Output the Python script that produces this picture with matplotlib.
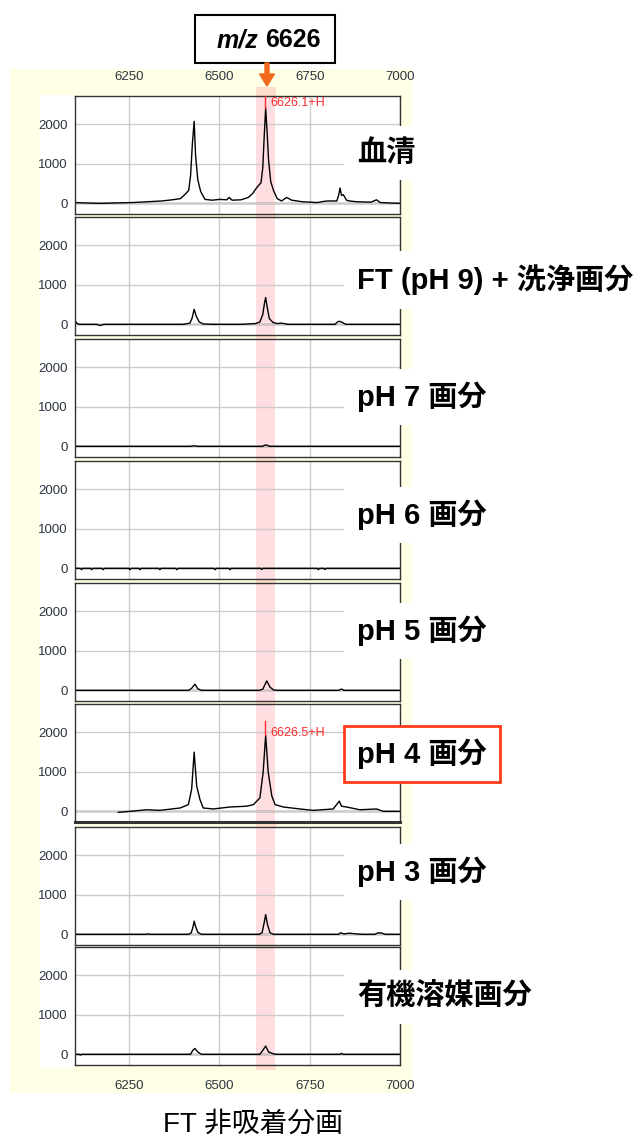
import numpy as np
from matplotlib import pyplot as plt
from matplotlib.patches import Rectangle, FancyArrow

plt.rcParams['font.family'] = ['Liberation Sans', 'Noto Sans CJK JP', 'DejaVu Sans']

W, H = 637, 1137

# spectra (m/z, intensity)
serum_mz = [6100, 6130, 6170, 6210, 6260, 6300, 6340, 6370, 6392, 6405, 6415, 6420, 6425, 6430, 6434, 6440,
            6448, 6460, 6480, 6500, 6520, 6527, 6535, 6560, 6580, 6592, 6605, 6615, 6620, 6624, 6628, 6632,
            6636, 6642, 6650, 6660, 6672, 6686, 6700, 6730, 6770, 6790, 6800, 6825, 6830, 6834, 6838, 6843,
            6852, 6860, 6880, 6920, 6935, 6945, 6970, 7000]
serum_int = [20, 10, 0, 10, 20, 40, 60, 90, 120, 230, 330, 700, 1500, 2080, 1200, 600,
             300, 100, 80, 100, 90, 150, 80, 90, 150, 250, 420, 520, 900, 1700, 2420, 1800,
             1100, 550, 320, 120, 60, 150, 80, 40, 20, 50, 60, 60, 200, 390, 200, 220,
             80, 60, 40, 30, 90, 20, 10, 0]

ft_mz = [6100, 6103, 6106, 6112, 6160, 6170, 6180, 6300, 6400, 6418, 6424, 6430, 6436, 6444, 6455, 6480,
         6560, 6600, 6612, 6620, 6625, 6628, 6632, 6638, 6648, 6660, 6672, 6690, 6760, 6820, 6828, 6834,
         6842, 6850, 6900, 7000]
ft_int = [0, 60, 20, 0, 0, -30, 0, 0, 0, 30, 150, 380, 200, 60, 10, 0,
          0, 20, 60, 250, 550, 680, 450, 150, 50, 20, 30, 0, 0, 0, 70, 75,
          40, 0, 0, 0]

ph7_mz = [6100, 6420, 6430, 6440, 6620, 6625, 6632, 6638, 7000]
ph7_int = [0, 0, 15, 0, 0, 30, 30, 0, 0]

ph6_mz = [6100, 6115, 6118, 6121, 6143, 6146, 6149, 6175, 6178, 6181, 6249, 6252, 6255, 6277, 6280, 6283,
          6332, 6335, 6338, 6379, 6382, 6385, 6485, 6488, 6491, 6526, 6529, 6532, 6614, 6617, 6620, 6771,
          6774, 6777, 6789, 6792, 6795, 7000]
ph6_int = [0, 0, -35, 0, 0, -35, 0, 0, -35, 0, 0, -35, 0, 0, -35, 0,
           0, -35, 0, 0, -35, 0, 0, -35, 0, 0, -35, 0, 0, -30, 0, 0,
           -35, 0, 0, -30, 0, 0]

ph5_mz = [6100, 6415, 6424, 6432, 6440, 6450, 6610, 6620, 6631, 6640, 6650, 6660, 6830, 6838, 6845, 7000]
ph5_int = [0, 0, 60, 157, 40, 0, 0, 30, 240, 80, 10, 0, 0, 33, 0, 0]

ph4_mz = [6220, 6252, 6298, 6335, 6391, 6414, 6423, 6430, 6437, 6446, 6455, 6483, 6529, 6575, 6594, 6612,
          6621, 6628, 6635, 6645, 6654, 6677, 6723, 6760, 6815, 6832, 6838, 6852, 6889, 6935, 6954, 7000]
ph4_int = [-25, 0, 40, 25, 85, 170, 560, 1500, 640, 300, 85, 60, 110, 130, 170, 340,
           990, 1930, 990, 390, 170, 110, 60, 25, 60, 260, 130, 110, 40, 60, 0, 0]

ph3_mz = [6100, 6298, 6302, 6306, 6415, 6422, 6427, 6430, 6434, 6440, 6450, 6610, 6618, 6624, 6628, 6633,
          6640, 6650, 6830, 6835, 6845, 6860, 6880, 6895, 6930, 6940, 6950, 6960, 7000]
ph3_int = [0, 0, 15, 0, 0, 40, 200, 333, 200, 50, 0, 0, 40, 300, 500, 250,
           40, 0, 0, 40, 10, 30, 10, 0, 0, 40, 30, 0, 0]

org_mz = [6100, 6112, 6115, 6118, 6420, 6426, 6432, 6440, 6450, 6612, 6620, 6628, 6636, 6650, 6660, 6834,
          6838, 6842, 7000]
org_int = [0, 0, -20, 0, 0, 100, 150, 60, 0, 0, 100, 210, 60, 10, 0, 0,
           25, 0, 0]

spectra = [(serum_mz, serum_int), (ft_mz, ft_int), (ph7_mz, ph7_int), (ph6_mz, ph6_int),
           (ph5_mz, ph5_int), (ph4_mz, ph4_int), (ph3_mz, ph3_int), (org_mz, org_int)]
labels = ['血清', 'FT (pH 9) + 洗浄画分', 'pH 7 画分', 'pH 6 画分', 'pH 5 画分', 'pH 4 画分',
          'pH 3 画分', '有機溶媒画分']
peak_tags = {0: ('6626.1+H', 6626, 2420, 2530), 5: ('6626.5+H', 6626, 1930, 1980)}
xticks = [6250, 6500, 6750, 7000]
yticks = [0, 1000, 2000]

# pixel layout of the panels
tops = [96, 217, 339, 461, 583, 704, 827, 947]
label_y = [153, 280, 397, 515, 631, 754, 872, 997]
ax_left, ax_w, ax_h = 75, 325, 118


def fx(x):
    return x / W


def fy(y):
    return 1 - y / H


fig = plt.figure(figsize=(W / 100, H / 100), dpi=100)

# backgrounds
fig.patches.append(Rectangle((fx(10), fy(1093)), fx(402), (1093 - 69) / H, transform=fig.transFigure,
                             facecolor='#ffffe6', edgecolor='none', zorder=-3))
fig.patches.append(Rectangle((fx(40), fy(1068)), fx(35), (1068 - 95) / H, transform=fig.transFigure,
                             facecolor='white', edgecolor='none', zorder=-2))
fig.patches.append(Rectangle((fx(256), fy(1070)), fx(20), (1070 - 87) / H, transform=fig.transFigure,
                             facecolor='#ff5a6a', alpha=0.2, edgecolor='none', zorder=-1))

for i, (mz, inten) in enumerate(spectra):
    ax = fig.add_axes([fx(ax_left), fy(tops[i] + ax_h), fx(ax_w), ax_h / H])
    ax.set_xlim(6100, 7000)
    ax.set_ylim(-270, 2720)
    ax.axvspan(6600, 6655, color='#ff5a6a', alpha=0.2, lw=0, zorder=0.5)
    ax.set_xticks(xticks[:3])
    ax.set_yticks(yticks)
    ax.grid(True, color='#cccccc', lw=1)
    ax.axhline(0, color='#444444', lw=1, zorder=1)
    ax.plot(mz, inten, color='black', lw=1, zorder=2)
    ax.tick_params(length=0, labelsize=9.5, labelcolor='#2b3440', pad=5)
    ax.tick_params(axis='x', labelbottom=False)
    for s in ax.spines.values():
        s.set_color('#333333')
        s.set_linewidth(1)
    if i == 5:
        ax.spines['bottom'].set_linewidth(2.2)
    if i in peak_tags:
        txt, pmz, ptop, ty = peak_tags[i]
        ax.plot([pmz, pmz], [ptop, ptop + 350], color='#ff2a2a', lw=1, zorder=3)
        ax.text(6640, ty, txt, color='#ff2a2a', fontsize=9, va='center', ha='left', zorder=3)
    if i == 0:
        ax.set_xticks(xticks)
        ax.tick_params(axis='x', labeltop=True, pad=9)
    if i == 7:
        ax.set_xticks(xticks)
        ax.tick_params(axis='x', labelbottom=True, pad=11)

    if i == 5:
        box = dict(boxstyle='square,pad=0.45', facecolor='white', edgecolor='#ff3b1a', lw=2)
    else:
        box = dict(boxstyle='square,pad=0.45', facecolor='white', edgecolor='none')
    fig.text(fx(357), fy(label_y[i]), labels[i], fontsize=21, fontweight='bold', va='center', ha='left',
             bbox=box, zorder=5)

# title box with arrow
fig.patches.append(Rectangle((fx(195), fy(63)), fx(140), 48 / H, transform=fig.transFigure,
                             facecolor='white', edgecolor='black', lw=1.5, zorder=4))
fig.text(fx(258), fy(40), 'm/z', fontsize=18, fontweight='bold', style='italic', ha='right', va='center',
         zorder=5)
fig.text(fx(265), fy(40), '6626', fontsize=18, fontweight='bold', ha='left', va='center', zorder=5)
fig.patches.append(FancyArrow(fx(267), fy(63), 0, -23 / H, width=fx(4), head_width=fx(15),
                              head_length=12 / H, length_includes_head=True, transform=fig.transFigure,
                              color='#f26b1d', zorder=4))

fig.text(fx(253), fy(1125), 'FT 非吸着分画', fontsize=20, ha='center', va='center')

plt.savefig('out.png', dpi=100)
